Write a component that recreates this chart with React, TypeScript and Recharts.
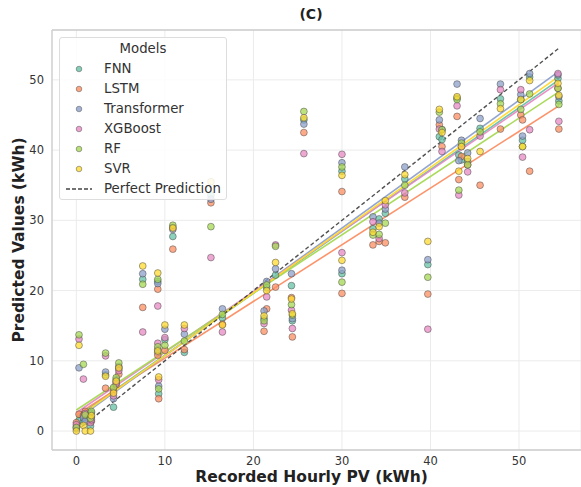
import React from 'react';
import { ScatterChart, Scatter, XAxis, YAxis, CartesianGrid, ReferenceLine } from 'recharts';

const MODELS = ['FNN', 'LSTM', 'Transformer', 'XGBoost', 'RF', 'SVR'];
const COLORS = ['#66c2a5', '#fc8d62', '#8da0cb', '#e78ac3', '#a6d854', '#ffd92f'];

const RECORDED = [0.0, 0.3, 0.8, 1.0, 1.6, 1.7, 3.3, 4.2, 4.5, 4.8, 7.5, 9.2, 9.2, 9.3, 10.0, 10.9, 12.2, 15.2, 16.5, 21.2, 21.5, 22.5, 24.3, 24.4, 25.7, 30.0, 30.0, 33.5, 34.2, 34.9, 37.1, 39.7, 41.0, 41.3, 43.0, 43.5, 43.2, 44.2, 45.6, 47.9, 50.2, 50.4, 51.2, 54.4, 54.5];

const FNN = [0.6, 1.5, 1.3, 2.1, 0.7, 2.6, 8.0, 3.4, 7.0, 8.9, 21.6, 21.3, 11.2, 5.3, 13.0, 27.7, 11.2, 33.6, 16.1, 16.0, 20.4, 22.2, 20.7, 15.7, 44.3, 37.0, 22.4, 28.8, 30.2, 31.0, 35.9, 23.7, 41.9, 41.5, 47.4, 38.6, 39.3, 38.4, 43.1, 47.3, 47.2, 41.4, 50.4, 50.2, 47.0];
const LSTM = [1.2, 2.4, 2.2, 2.8, 2.0, 1.4, 6.1, 5.6, 6.6, 8.1, 17.6, 20.2, 10.8, 4.6, 11.5, 25.9, 11.6, 32.5, 15.2, 14.2, 17.4, 20.5, 19.0, 13.4, 42.5, 34.1, 19.6, 26.5, 27.0, 26.8, 33.3, 19.5, 43.6, 40.5, 44.8, 39.1, 35.8, 37.9, 35.0, 43.0, 45.0, 44.3, 37.0, 48.8, 43.0];
const TRANSFORMER = [0.3, 9.0, 1.9, 1.4, 2.5, 2.0, 8.4, 4.6, 7.3, 9.2, 22.4, 21.0, 11.6, 6.4, 14.5, 28.7, 13.8, 33.0, 17.4, 17.1, 21.3, 23.1, 22.4, 16.0, 43.7, 38.2, 22.9, 30.5, 29.6, 31.6, 37.6, 24.4, 44.3, 42.9, 49.4, 41.4, 38.5, 39.6, 44.5, 49.4, 47.9, 42.0, 50.9, 50.7, 47.6];
const XGBOOST = [0.9, 13.1, 7.4, 2.5, 1.2, 1.6, 10.7, 5.0, 6.8, 8.6, 14.1, 17.8, 12.5, 7.3, 13.3, 29.0, 14.6, 24.7, 14.1, 15.3, 19.1, 26.5, 17.2, 14.6, 39.5, 39.4, 25.4, 29.8, 27.4, 32.2, 33.9, 14.5, 43.0, 39.8, 46.3, 40.5, 33.6, 36.9, 42.0, 48.6, 48.6, 39.0, 42.9, 50.9, 44.1];
const RF = [0.5, 13.7, 9.5, 2.3, 1.8, 2.8, 11.1, 6.2, 7.6, 9.7, 20.9, 21.6, 12.0, 6.0, 12.2, 29.3, 12.8, 29.1, 16.6, 15.7, 20.8, 26.3, 18.0, 16.5, 45.5, 37.6, 21.2, 27.9, 28.0, 29.6, 35.0, 21.9, 45.4, 42.9, 47.2, 41.0, 34.3, 37.9, 42.6, 46.6, 45.8, 40.5, 48.0, 48.8, 46.5];
const SVR = [0.0, 12.2, 0.8, 0.0, 0.0, 2.2, 7.8, 5.4, 7.1, 9.0, 23.5, 22.5, 11.4, 7.7, 15.1, 28.9, 15.1, 35.5, 15.1, 16.4, 20.0, 24.0, 18.8, 16.7, 44.6, 36.4, 24.3, 28.3, 29.1, 32.8, 36.5, 27.0, 45.8, 42.5, 47.6, 40.5, 37.0, 38.8, 39.8, 45.9, 47.2, 40.5, 49.9, 49.5, 47.8];

const PREDICTIONS = [FNN, LSTM, TRANSFORMER, XGBOOST, RF, SVR];

// fitted regression lines: value at x=0 and at x=54.5
const FIT_X = [0, 54.5];
const FIT_START = [2.0, 2.3, 1.6, 2.6, 3.0, 1.8];
const FIT_END = [50.0, 46.3, 51.2, 49.6, 48.3, 50.5];
const PERFECT = [0, 54.5];

const X_TICKS = [0, 10, 20, 30, 40, 50];
const Y_TICKS = [0, 10, 20, 30, 40, 50];
const X_DOMAIN = [-2.75, 57.0];
const Y_DOMAIN = [-2.7, 57.1];

const FONT = '"DejaVu Sans", sans-serif';
const TEXT_COLOR = '#333333';

const makeShape = (color: string) => (props: any) => (
  <circle
    cx={props.cx}
    cy={props.cy}
    r={3.4}
    fill={color}
    fillOpacity={0.75}
    stroke="#444"
    strokeOpacity={0.8}
    strokeWidth={0.6}
  />
);

const LegendBox = () => (
  <div
    style={{
      position: 'absolute',
      left: 59,
      top: 37,
      width: 168,
      height: 163,
      border: '1px solid #dddddd',
      borderRadius: 3,
      background: 'rgba(255,255,255,0.85)',
      fontFamily: FONT,
      fontSize: 13.3,
      color: TEXT_COLOR,
      boxSizing: 'border-box',
    }}
  >
    <div style={{ position: 'absolute', top: 2, left: 0, width: '100%', textAlign: 'center', lineHeight: '18px' }}>Models</div>
    {MODELS.map((m, i) => (
      <div key={m} style={{ position: 'absolute', top: 22 + i * 20, left: 0, height: 18, width: '100%' }}>
        <svg width={30} height={18} style={{ position: 'absolute', left: 10, top: 0 }}>
          <circle cx={9} cy={9} r={2.8} fill={COLORS[i]} fillOpacity={0.8} stroke="#555" strokeWidth={0.5} />
        </svg>
        <span style={{ position: 'absolute', left: 44, top: 0, lineHeight: '18px' }}>{m}</span>
      </div>
    ))}
    <div style={{ position: 'absolute', top: 142, left: 0, height: 18, width: '100%' }}>
      <svg width={30} height={18} style={{ position: 'absolute', left: 5, top: 0 }}>
        <line x1={1} y1={9} x2={27} y2={9} stroke="#444" strokeWidth={1.4} strokeDasharray="4 2" />
      </svg>
      <span style={{ position: 'absolute', left: 44, top: 0, lineHeight: '18px' }}>Perfect Prediction</span>
    </div>
  </div>
);

export default function App() {
  return (
    <div style={{ position: 'absolute', left: 0, top: 0, width: 581, height: 487, background: '#fff' }}>
      <div
        style={{
          position: 'absolute',
          left: 261,
          width: 100,
          top: 6,
          textAlign: 'center',
          fontFamily: FONT,
          fontWeight: 'bold',
          fontSize: 14,
          color: '#222',
        }}
      >
        (C)
      </div>
      <ScatterChart width={581} height={487} margin={{ top: 30, right: 0, bottom: 0, left: 0 }}>
        <CartesianGrid stroke="#ebebeb" strokeWidth={1} />
        <XAxis
          type="number"
          dataKey="x"
          domain={X_DOMAIN}
          allowDataOverflow
          ticks={X_TICKS}
          height={37}
          tickSize={0}
          tickMargin={7}
          tickLine={false}
          axisLine={{ stroke: '#cccccc', strokeWidth: 1.3 }}
          tick={{ fontFamily: FONT, fontSize: 11.5, fill: TEXT_COLOR }}
          label={{
            value: 'Recorded Hourly PV (kWh)',
            position: 'insideBottom',
            offset: 5,
            dx: -5,
            style: { fontFamily: FONT, fontWeight: 'bold', fontSize: 15.5, fill: '#222' },
          }}
        />
        <YAxis
          type="number"
          dataKey="y"
          domain={Y_DOMAIN}
          allowDataOverflow
          ticks={Y_TICKS}
          width={52}
          tickSize={0}
          tickMargin={8}
          tickLine={false}
          axisLine={{ stroke: '#cccccc', strokeWidth: 1.3 }}
          tick={{ fontFamily: FONT, fontSize: 11.5, fill: TEXT_COLOR }}
          label={{
            value: 'Predicted Values (kWh)',
            angle: -90,
            position: 'center',
            dx: -8,
            style: { fontFamily: FONT, fontWeight: 'bold', fontSize: 15.5, fill: '#222', textAnchor: 'middle' },
          }}
        />
        <ReferenceLine y={Y_DOMAIN[1]} stroke="#cccccc" strokeWidth={1.3} ifOverflow="visible" />
        {MODELS.map((m, i) => (
          <Scatter
            key={m}
            name={m}
            data={RECORDED.map((x, j) => ({ x, y: PREDICTIONS[i][j] }))}
            shape={makeShape(COLORS[i])}
            isAnimationActive={false}
          />
        ))}
        {MODELS.map((m, i) => (
          <ReferenceLine
            key={'fit-' + m}
            segment={[
              { x: FIT_X[0], y: FIT_START[i] },
              { x: FIT_X[1], y: FIT_END[i] },
            ]}
            stroke={COLORS[i]}
            strokeWidth={1.6}
            strokeOpacity={0.95}
            ifOverflow="visible"
          />
        ))}
        <ReferenceLine
          segment={[
            { x: PERFECT[0], y: PERFECT[0] },
            { x: PERFECT[1], y: PERFECT[1] },
          ]}
          stroke="#333"
          strokeWidth={1.4}
          strokeDasharray="4 2.5"
          strokeOpacity={0.85}
          ifOverflow="visible"
        />
      </ScatterChart>
      <LegendBox />
    </div>
  );
}
